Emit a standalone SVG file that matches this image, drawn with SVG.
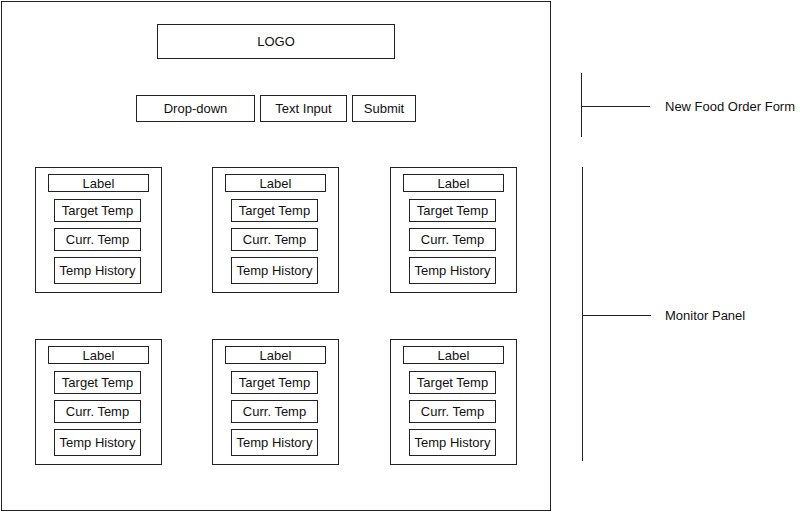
<svg xmlns="http://www.w3.org/2000/svg" width="800" height="512" viewBox="0 0 800 512">
<style>
.b{fill:#fff;stroke:#222;stroke-width:1}
.t{font-family:"Liberation Sans",Arial,sans-serif;font-size:13px;fill:#111;text-anchor:middle;dominant-baseline:central}
.l{font-family:"Liberation Sans",Arial,sans-serif;font-size:13px;fill:#111;dominant-baseline:central}
.c{stroke:#222;stroke-width:1;fill:none}
</style>
<defs>
<g id="panel">
<rect class="b" x="0.5" y="0.5" width="126" height="125"/>
<rect class="b" x="13.5" y="7.5" width="100" height="17"/>
<text class="t" x="63.5" y="16.5">Label</text>
<rect class="b" x="19.5" y="32.5" width="86" height="22"/>
<text class="t" x="62.5" y="43.5">Target Temp</text>
<rect class="b" x="19.5" y="61.5" width="86" height="22"/>
<text class="t" x="62.5" y="72.5">Curr. Temp</text>
<rect class="b" x="19.5" y="90.5" width="86" height="26"/>
<text class="t" x="62.5" y="103.5">Temp History</text>
</g>
</defs>
<rect width="800" height="512" fill="#fff"/>
<g id="frame"><rect class="b" x="1.5" y="1.5" width="549" height="509"/></g>
<g id="logo"><rect class="b" x="157.5" y="24.5" width="237" height="34"/><text class="t" x="276" y="41.5">LOGO</text></g>
<g id="dropdown"><rect class="b" x="136.5" y="95.5" width="118" height="26"/><text class="t" x="195.5" y="108.5">Drop-down</text></g>
<g id="textinput"><rect class="b" x="260.5" y="95.5" width="86" height="26"/><text class="t" x="303.5" y="108.5">Text Input</text></g>
<g id="submit"><rect class="b" x="352.5" y="95.5" width="63" height="26"/><text class="t" x="384" y="108.5">Submit</text></g>
<g id="panel1"><use href="#panel" x="35" y="167"/></g>
<g id="panel2"><use href="#panel" x="212" y="167"/></g>
<g id="panel3"><use href="#panel" x="390" y="167"/></g>
<g id="panel4"><use href="#panel" x="35" y="339"/></g>
<g id="panel5"><use href="#panel" x="212" y="339"/></g>
<g id="panel6"><use href="#panel" x="390" y="339"/></g>
<g id="connectors">
<line class="c" x1="581.5" y1="73" x2="581.5" y2="137"/>
<line class="c" x1="581.5" y1="106.5" x2="650" y2="106.5"/>
<line class="c" x1="582.5" y1="167" x2="582.5" y2="461"/>
<line class="c" x1="582.5" y1="315.5" x2="651" y2="315.5"/>
</g>
<g id="lbl-form"><text class="l" x="665" y="106.5">New Food Order Form</text></g>
<g id="lbl-monitor"><text class="l" x="665" y="315.5">Monitor Panel</text></g>
</svg>
